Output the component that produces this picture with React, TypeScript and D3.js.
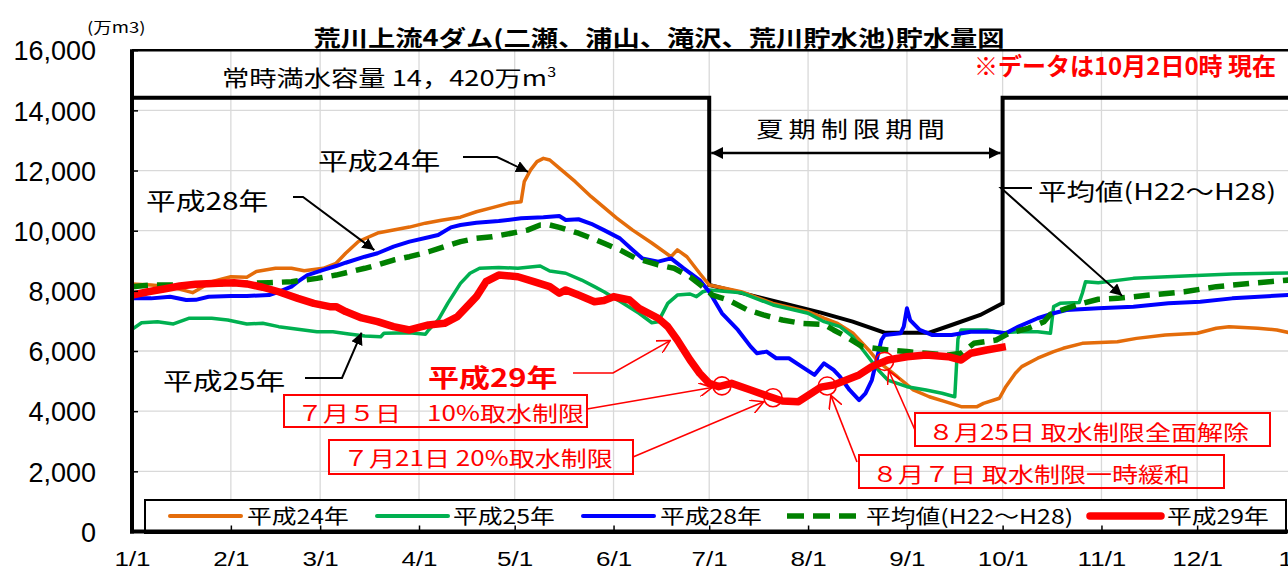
import { useEffect, useRef } from 'react';
import * as d3 from 'd3';

// [day of year (0 = 1/1), storage in 万m3]
type Pt = [number, number];

const monthDays = [0, 31, 59, 90, 120, 151, 181, 212, 243, 273, 304, 334, 365];
const monthLabels = ['1/1', '2/1', '3/1', '4/1', '5/1', '6/1', '7/1', '8/1', '9/1', '10/1', '11/1', '12/1', '1/1'];
const yTicks = [0, 2000, 4000, 6000, 8000, 10000, 12000, 14000, 16000];

const h24: Pt[] = [
  [0, 8230], [6, 8195], [12, 8140], [19, 7940], [25, 8305], [31, 8470], [36, 8450], [39, 8640],
  [45, 8750], [50, 8750], [54, 8670], [60, 8750], [64, 8915], [67, 9250], [71, 9640], [77, 9920],
  [82, 10020], [87, 10120], [92, 10250], [97, 10350], [103, 10450], [108, 10630], [113, 10765],
  [118, 10910], [122, 10965], [123, 11630], [125, 12020], [127, 12295], [129, 12405], [131, 12350],
  [134, 12080], [139, 11630], [144, 11130], [152, 10420], [157, 10020], [163, 9590], [169, 9135],
  [171, 9360], [174, 9135], [178, 8585], [181, 8195], [191, 7970], [201, 7585], [212, 7310],
  [217, 7090], [221, 6930], [226, 6600], [231, 6035], [234, 5645], [240, 5145], [245, 4705],
  [250, 4480], [255, 4315], [260, 4150], [265, 4150], [267, 4260], [272, 4430], [274, 4815],
  [277, 5260], [279, 5480], [284, 5760], [289, 5980], [292, 6090], [298, 6255], [309, 6310],
  [315, 6420], [324, 6530], [334, 6590], [340, 6755], [344, 6810], [353, 6755], [359, 6700], [365, 6560],
];

const h25: Pt[] = [
  [0, 6720], [3, 6940], [8, 6975], [13, 6900], [18, 7090], [25, 7090], [30, 7030], [36, 6900],
  [41, 6920], [46, 6810], [52, 6720], [58, 6640], [63, 6640], [68, 6565], [73, 6500], [78, 6475],
  [79, 6590], [87, 6610], [92, 6555], [93, 6700], [96, 7030], [99, 7585], [103, 8250], [106, 8585],
  [109, 8750], [115, 8780], [121, 8750], [128, 8825], [131, 8660], [136, 8585], [141, 8360],
  [145, 8140], [148, 7970], [154, 7585], [159, 7255], [163, 6940], [165, 6970], [168, 7585],
  [171, 7860], [175, 7895], [177, 7805], [179, 7970], [181, 8030], [191, 7940], [201, 7530],
  [212, 7255], [217, 6975], [222, 6810], [226, 6475], [230, 5925], [234, 5370], [237, 5035],
  [243, 4815], [249, 4705], [254, 4595], [258, 4480], [259, 6400], [260, 6700], [268, 6700],
  [273, 6610], [278, 6640], [284, 6640], [288, 6590], [289, 7475], [291, 7585], [297, 7610],
  [298, 7920], [299, 8305], [303, 8270], [314, 8415], [330, 8495], [345, 8560], [365, 8600],
];

const h28: Pt[] = [
  [0, 7750], [6, 7750], [12, 7805], [17, 7695], [20, 7700], [24, 7805], [31, 7830], [36, 7830],
  [43, 7860], [46, 7970], [50, 8140], [52, 8305], [55, 8525], [60, 8695], [64, 8825], [67, 8935],
  [73, 9135], [77, 9250], [82, 9470], [87, 9635], [93, 9780], [96, 9855], [100, 10110], [103, 10190],
  [108, 10265], [115, 10320], [122, 10410], [129, 10445], [134, 10490], [136, 10355], [140, 10380],
  [144, 10230], [148, 10020], [153, 9745], [157, 9360], [160, 9080], [165, 8970], [169, 9080],
  [173, 8750], [178, 8360], [181, 7970], [185, 7255], [190, 6700], [194, 6145], [196, 5925],
  [199, 5980], [202, 5760], [206, 5760], [210, 5480], [214, 5205], [217, 5590], [220, 5370],
  [222, 5145], [225, 4705], [228, 4370], [230, 4595], [232, 5035], [234, 5925], [235, 6365],
  [236, 6530], [241, 6590], [242, 6810], [243, 7420], [244, 7030], [247, 6700], [251, 6530],
  [257, 6530], [263, 6640], [270, 6640], [274, 6590], [278, 6810], [284, 7090], [289, 7255],
  [293, 7365], [303, 7420], [314, 7475], [325, 7585], [335, 7640], [345, 7750], [365, 7880],
];

const avg: Pt[] = [
  [0, 8140], [6, 8195], [15, 8195], [25, 8230], [36, 8250], [43, 8270], [50, 8305], [54, 8360],
  [58, 8415], [64, 8525], [73, 8750], [77, 8860], [82, 9025], [87, 9135], [93, 9300], [98, 9470],
  [103, 9635], [108, 9745], [113, 9800], [119, 9915], [124, 10020], [128, 10190], [131, 10190],
  [134, 10110], [140, 9915], [145, 9715], [148, 9580], [153, 9360], [158, 9080], [165, 8860],
  [170, 8750], [175, 8470], [179, 8140], [182, 7860], [187, 7695], [193, 7365], [198, 7200],
  [204, 7030], [210, 6920], [217, 6880], [220, 6700], [224, 6475], [229, 6145], [237, 6035],
  [243, 5980], [249, 5925], [256, 5870], [260, 5925], [264, 6255], [271, 6365], [275, 6590],
  [281, 6755], [286, 6975], [288, 7220], [293, 7420], [298, 7585], [303, 7720], [309, 7750],
  [319, 7860], [330, 7970], [340, 8140], [351, 8250], [365, 8380],
];

const h29: Pt[] = [
  [0, 7860], [5, 7970], [10, 8060], [15, 8160], [20, 8220], [27, 8250], [32, 8270], [36, 8230],
  [41, 8120], [46, 7970], [52, 7750], [57, 7585], [62, 7475], [64, 7475], [67, 7310], [72, 7100],
  [77, 6975], [82, 6810], [87, 6700], [93, 6865], [98, 6920], [102, 7140], [106, 7585], [108, 7805],
  [111, 8305], [115, 8525], [121, 8470], [126, 8305], [131, 8140], [134, 7920], [136, 8030],
  [140, 7860], [145, 7640], [148, 7680], [151, 7805], [156, 7695], [159, 7420], [165, 7090],
  [168, 6810], [171, 6365], [175, 5700], [178, 5260], [181, 4925], [184, 4815], [188, 4925],
  [194, 4705], [200, 4480], [204, 4340], [209, 4315], [213, 4595], [216, 4800], [220, 4870],
  [224, 5035], [228, 5205], [232, 5480], [237, 5700], [243, 5810], [249, 5870], [256, 5810],
  [260, 5700], [263, 5925], [268, 6035], [274, 6145],
];

// summer restriction: capacity drops between 7/1 and 10/1
const capacity: Pt[] = [
  [0, 14420], [181, 14420], [181, 8200], [216, 7275], [226, 6975], [236, 6610], [250, 6610],
  [257, 6865], [266, 7200], [273, 7585], [273, 14420], [365, 14420],
];

const eventDays = [185, 201, 218, 236];
const eventLabels = ['７月５日　10%取水制限', '７月21日 20%取水制限', '８月７日 取水制限一時緩和', '８月25日 取水制限全面解除'];

const W = 1288;
const H = 571;
const SX = 1.24; // the source picture is stretched sideways
const JP = '"Noto Sans CJK JP", "Noto Sans CJK SC", sans-serif';
const NUM = '"Liberation Sans", Arial, sans-serif';

function valueAt(s: Pt[], day: number) {
  const i = d3.bisector((p: Pt) => p[0]).left(s, day);
  if (i <= 0) return s[0][1];
  if (i >= s.length) return s[s.length - 1][1];
  const [d0, v0] = s[i - 1];
  const [d1, v1] = s[i];
  return d1 === d0 ? v1 : v0 + ((v1 - v0) * (day - d0)) / (d1 - d0);
}

export default function App() {
  const svgRef = useRef<SVGSVGElement>(null);

  useEffect(() => {
    if (!svgRef.current) return;
    const svg = d3.select(svgRef.current);
    svg.selectAll('*').remove();

    const x = d3.scaleLinear().domain([0, 365]).range([132, 1296]);
    const y = d3.scaleLinear().domain([0, 16000]).range([531.5, 50.2]);

    svg.append('rect').attr('width', W).attr('height', H).attr('fill', '#fff');

    // arrow heads
    const defs = svg.append('defs');
    defs.append('marker')
      .attr('id', 'headBlack')
      .attr('viewBox', '0 0 12 12')
      .attr('refX', 12).attr('refY', 6)
      .attr('markerWidth', 12).attr('markerHeight', 12)
      .attr('markerUnits', 'userSpaceOnUse')
      .attr('orient', 'auto-start-reverse')
      .append('path').attr('d', 'M0,0 L12,6 L0,12 Z').attr('fill', '#000');
    defs.append('marker')
      .attr('id', 'headRed')
      .attr('viewBox', '0 0 14 14')
      .attr('refX', 13).attr('refY', 7)
      .attr('markerWidth', 14).attr('markerHeight', 14)
      .attr('markerUnits', 'userSpaceOnUse')
      .attr('orient', 'auto')
      .append('path').attr('d', 'M0,0 L13,7 L0,14').attr('fill', 'none')
      .attr('stroke', '#FF0000').attr('stroke-width', 1.6);

    const label = (tx: number, ty: number, str: string, size: number, o: any = {}) =>
      svg.append('text')
        .attr('transform', `translate(${tx},${ty}) scale(${o.sx ?? SX},1)`)
        .attr('font-family', o.font ?? JP)
        .attr('font-size', size)
        .attr('font-weight', o.bold ? 700 : 400)
        .attr('fill', o.color ?? '#000')
        .attr('text-anchor', o.anchor ?? 'start')
        .attr('letter-spacing', o.spacing ?? 0)
        .text(str);

    // Grid
    svg.append('g').selectAll('line').data(monthDays.slice(1, -1)).join('line')
      .attr('x1', d => x(d)).attr('x2', d => x(d))
      .attr('y1', y(16000)).attr('y2', y(0))
      .attr('stroke', '#d9d9d9').attr('stroke-width', 1.3);
    svg.append('g').selectAll('line').data(yTicks.slice(1, -1)).join('line')
      .attr('x1', x(0)).attr('x2', W)
      .attr('y1', d => y(d)).attr('y2', d => y(d))
      .attr('stroke', '#d9d9d9').attr('stroke-width', 1.3);

    // frame top
    svg.append('line')
      .attr('x1', x(0)).attr('x2', W).attr('y1', y(16000)).attr('y2', y(16000))
      .attr('stroke', '#000').attr('stroke-width', 2.5);

    const line = d3.line<Pt>().x(d => x(d[0])).y(d => y(d[1]));

    svg.append('path')
      .datum(capacity)
      .attr('fill', 'none')
      .attr('stroke', '#000')
      .attr('stroke-width', 4)
      .attr('d', line);

    const series = [
      { name: '平成24年', data: h24, color: '#E46C0A', width: 3.5, dash: null },
      { name: '平成25年', data: h25, color: '#00B050', width: 3.5, dash: null },
      { name: '平成28年', data: h28, color: '#0000FF', width: 4, dash: null },
      { name: '平均値(H22～H28)', data: avg, color: '#008000', width: 5.5, dash: '16,9' },
      { name: '平成29年', data: h29, color: '#FF0000', width: 7.5, dash: null },
    ];

    series.forEach(s => {
      svg.append('path')
        .datum(s.data)
        .attr('fill', 'none')
        .attr('stroke', s.color)
        .attr('stroke-width', s.width)
        .attr('stroke-linejoin', 'round')
        .attr('stroke-dasharray', s.dash)
        .attr('d', line);
    });

    // Texts on top
    label(659, 46, '荒川上流4ダム(二瀬、浦山、滝沢、荒川貯水池)貯水量図', 22, { bold: true, anchor: 'middle' });
    label(87, 33, '(万m3)', 15);
    label(1276, 75, '※データは10月2日0時 現在', 24, { bold: true, color: '#FF0000', anchor: 'end', sx: 1 });

    const cap = label(222, 86, `常時満水容量 14，${d3.format(',')(14420).slice(3)}万m`, 22);
    cap.append('tspan').attr('font-size', 13).attr('dy', -9).text('3');

    // summer restriction period
    label(853, 137, '夏期制限期間', 22, { anchor: 'middle', spacing: 4 });
    svg.append('line')
      .attr('x1', x(181) + 2).attr('x2', x(273) - 2)
      .attr('y1', 153).attr('y2', 153)
      .attr('stroke', '#000').attr('stroke-width', 2.5)
      .attr('marker-start', 'url(#headBlack)')
      .attr('marker-end', 'url(#headBlack)');

    // series call-outs
    const notes = [
      { text: '平成24年', tx: 318, ty: 170, size: 24, pts: [[463, 157], [497, 157]], data: h24, day: 124.5, dx: -1, dy: -1 },
      { text: '平成28年', tx: 146, ty: 210, size: 24, pts: [[293, 197], [303, 197]], data: h28, day: 76, dx: 0, dy: -4 },
      { text: '平成25年', tx: 163, ty: 390, size: 24, pts: [[305, 378], [342, 378]], data: h25, day: 72, dx: 0, dy: -3 },
      { text: '平均値(H22～H28)', tx: 1038, ty: 200, size: 23, pts: [[1032, 188], [1001, 188]], data: avg, day: 310.5, dx: 0, dy: -2 },
    ];
    notes.forEach(n => {
      label(n.tx, n.ty, n.text, n.size);
      const tip: [number, number] = [x(n.day) + n.dx, y(valueAt(n.data, n.day)) + n.dy];
      svg.append('polyline')
        .attr('points', [...n.pts, tip].map(p => p.join(',')).join(' '))
        .attr('fill', 'none').attr('stroke', '#000').attr('stroke-width', 2)
        .attr('marker-end', 'url(#headBlack)');
    });

    label(428, 387, '平成29年', 25, { bold: true, color: '#FF0000' });
    const redTip: [number, number] = [x(170) - 4, y(valueAt(h29, 170)) + 5];
    svg.append('polyline')
      .attr('points', [[573, 373], [613, 373], redTip].map(p => p.join(',')).join(' '))
      .attr('fill', 'none').attr('stroke', '#FF0000').attr('stroke-width', 1.6)
      .attr('marker-end', 'url(#headRed)');

    // intake restriction events
    const boxes = [
      { x: 284, y: 395, w: 303, h: 32, tx: 297, ty: 421, lx: 587, ly: 409 },
      { x: 329, y: 440, w: 304, h: 34, tx: 343, ty: 466, lx: 633, ly: 457 },
      { x: 859, y: 455, w: 365, h: 33, tx: 872, ty: 482, lx: 857, ly: 462 },
      { x: 915, y: 413, w: 355, h: 33, tx: 928, ty: 440, lx: 915, ly: 430 },
    ];
    const R = 9;
    eventDays.forEach((day, i) => {
      const b = boxes[i];
      const cx = x(day);
      const cy = y(valueAt(h29, day));
      svg.append('circle')
        .attr('cx', cx).attr('cy', cy).attr('r', R)
        .attr('fill', 'none').attr('stroke', '#FF0000').attr('stroke-width', 1.6);
      const dx = cx - b.lx;
      const dy = cy - b.ly;
      const len = Math.hypot(dx, dy);
      svg.append('line')
        .attr('x1', b.lx).attr('y1', b.ly)
        .attr('x2', cx - (dx / len) * (R + 1)).attr('y2', cy - (dy / len) * (R + 1))
        .attr('stroke', '#FF0000').attr('stroke-width', 1.6)
        .attr('marker-end', 'url(#headRed)');
      svg.append('rect')
        .attr('x', b.x).attr('y', b.y).attr('width', b.w).attr('height', b.h)
        .attr('fill', 'none').attr('stroke', '#FF0000').attr('stroke-width', 2);
      label(b.tx, b.ty, eventLabels[i], 21, { color: '#FF0000' });
    });

    // Legend
    svg.append('rect')
      .attr('x', 145).attr('y', 500).attr('width', 1141).attr('height', 33)
      .attr('fill', '#fff').attr('stroke', '#000').attr('stroke-width', 2);
    const legendX = [170, 377, 583, 787, 1090];
    const legendTextX = [247, 453, 660, 866, 1167];
    series.forEach((s, i) => {
      svg.append('line')
        .attr('x1', legendX[i]).attr('x2', legendX[i] + 71)
        .attr('y1', 516).attr('y2', 516)
        .attr('stroke', s.color)
        .attr('stroke-width', Math.max(4, s.width))
        .attr('stroke-linecap', s.dash ? 'butt' : 'round')
        .attr('stroke-dasharray', s.dash ? '17,9' : null);
      label(legendTextX[i], 524, s.name, 20);
    });

    // Axes
    const yAxis = svg.append('g')
      .attr('transform', `translate(${x(0)},0)`)
      .call(d3.axisLeft(y).tickValues(yTicks).tickSize(-6).tickFormat(d3.format(',')));
    yAxis.attr('font-family', NUM).attr('font-size', 27);
    yAxis.select('.domain').remove();
    yAxis.selectAll('.tick line').attr('stroke', '#000').attr('stroke-width', 1.5);
    yAxis.selectAll('.tick text')
      .attr('x', -36)
      .attr('dy', '0.36em')
      .attr('fill', '#000');

    const xAxis = svg.append('g')
      .attr('transform', `translate(0,${y(0)})`)
      .call(d3.axisBottom(x).tickValues(monthDays).tickSize(-6).tickFormat((_, i) => monthLabels[i]));
    xAxis.attr('font-family', NUM).attr('font-size', 21);
    xAxis.select('.domain').remove();
    xAxis.selectAll('.tick line').attr('stroke', '#000').attr('stroke-width', 1.5);
    xAxis.selectAll('.tick text')
      .attr('y', 35)
      .attr('dy', null)
      .attr('fill', '#000')
      .attr('transform', `scale(${SX},1)`);

    svg.append('line')
      .attr('x1', x(0)).attr('x2', x(0)).attr('y1', y(16000) - 1).attr('y2', y(0) + 2)
      .attr('stroke', '#000').attr('stroke-width', 4);
    svg.append('line')
      .attr('x1', x(0) - 2).attr('x2', W).attr('y1', y(0)).attr('y2', y(0))
      .attr('stroke', '#000').attr('stroke-width', 4);
  }, []);

  return (
    <svg
      ref={svgRef}
      width={W}
      height={H}
      style={{ position: 'absolute', left: 0, top: 0, display: 'block' }}
    />
  );
}
